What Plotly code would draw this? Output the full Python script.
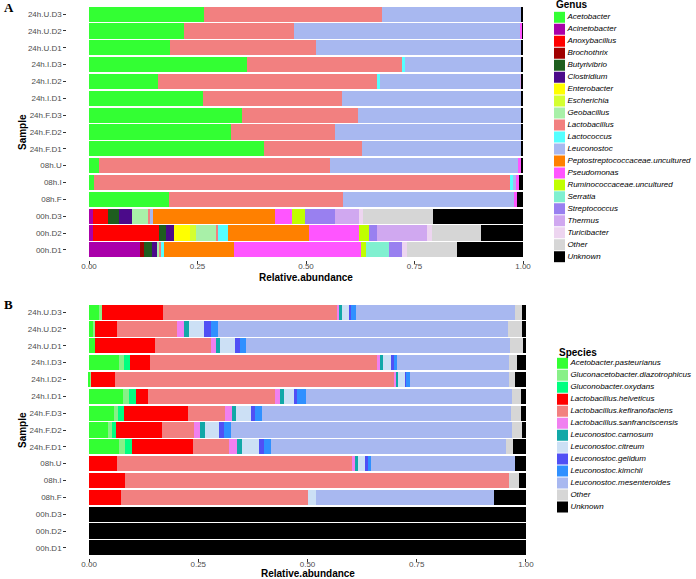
import plotly.graph_objects as go

# samples, bottom to top
samples = ["00h.D1", "00h.D2", "00h.D3", "08h.F", "08h.I", "08h.U",
           "24h.F.D1", "24h.F.D2", "24h.F.D3", "24h.I.D1", "24h.I.D2", "24h.I.D3",
           "24h.U.D1", "24h.U.D2", "24h.U.D3"]
ticks = [0, 0.25, 0.5, 0.75, 1.0]
tick_labels = ["0.00", "0.25", "0.50", "0.75", "1.00"]

# ---- panel A : genus ----
genus = ["Acetobacter", "Acinetobacter", "Anoxybacillus", "Brochothrix", "Butyrivibrio",
         "Clostridium", "Enterobacter", "Escherichia", "Geobacillus", "Lactobacillus",
         "Lactococcus", "Leuconostoc", "Peptostreptococcaceae.uncultured", "Pseudomonas",
         "Ruminococcaceae.uncultured", "Serratia", "Streptococcus", "Thermus",
         "Turicibacter", "Other", "Unknown"]
genus_colors = ["#33FF33", "#AA00AA", "#FF0000", "#A00000", "#1E5E1E",
                "#4B0A8A", "#FFFF00", "#D4FF30", "#A8F0A8", "#F28080",
                "#55FFFF", "#A8B8F0", "#FF8000", "#FF55FF",
                "#C0FF00", "#80F0D0", "#9980F0", "#D0A8F0",
                "#EDD5F0", "#D6D6D6", "#000000"]

acetobacter = [0, 0, 0, 0.184, 0.011, 0.024, 0.404, 0.327, 0.352, 0.262, 0.160, 0.363, 0.187, 0.219, 0.265]
acinetobacter = [0.118, 0.010, 0.010, 0, 0, 0, 0, 0, 0, 0, 0, 0, 0, 0, 0]
anoxybacillus = [0, 0.152, 0.034, 0, 0, 0, 0, 0, 0, 0, 0, 0, 0, 0, 0]
brochothrix = [0.009, 0, 0, 0, 0, 0, 0, 0, 0, 0, 0, 0, 0, 0, 0]
butyrivibrio = [0.018, 0.015, 0.025, 0, 0, 0, 0, 0, 0, 0, 0, 0, 0, 0, 0]
clostridium = [0.012, 0.019, 0.029, 0, 0, 0, 0, 0, 0, 0, 0, 0, 0, 0, 0]
enterobacter = [0, 0.037, 0, 0, 0, 0, 0, 0, 0, 0, 0, 0, 0, 0, 0]
escherichia = [0, 0.013, 0, 0, 0, 0, 0, 0, 0, 0, 0, 0, 0, 0, 0]
geobacillus = [0.007, 0.046, 0.037, 0, 0, 0, 0, 0, 0, 0, 0, 0, 0, 0, 0]
lactobacillus = [0.002, 0.006, 0.006, 0.401, 0.959, 0.531, 0.225, 0.240, 0.267, 0.321, 0.506, 0.358, 0.336, 0.253, 0.410]
lactococcus = [0.006, 0.023, 0, 0, 0.007, 0, 0, 0, 0, 0, 0.004, 0.008, 0, 0, 0]
leuconostoc = [0, 0, 0.007, 0.397, 0.009, 0.436, 0.369, 0.431, 0.379, 0.414, 0.323, 0.268, 0.475, 0.523, 0.322]
peptostrep = [0.162, 0.186, 0.281, 0, 0, 0, 0, 0, 0, 0, 0, 0, 0, 0, 0]
pseudomonas = [0.293, 0.115, 0.038, 0.004, 0.004, 0.004, 0, 0, 0, 0, 0, 0, 0, 0.004, 0]
ruminococcaceae = [0.011, 0.022, 0.031, 0, 0, 0, 0, 0, 0, 0, 0, 0, 0, 0, 0]
serratia = [0.054, 0, 0, 0, 0, 0, 0, 0, 0, 0, 0, 0, 0, 0, 0]
streptococcus = [0.029, 0.020, 0.069, 0, 0, 0, 0, 0, 0, 0, 0, 0, 0, 0, 0]
thermus = [0, 0.114, 0.055, 0, 0, 0, 0, 0, 0, 0, 0.005, 0, 0, 0, 0]
turicibacter = [0.012, 0.012, 0.010, 0, 0, 0, 0, 0, 0, 0, 0, 0, 0, 0, 0]
genus_other = [0.116, 0.113, 0.160, 0, 0, 0, 0, 0, 0, 0, 0, 0, 0, 0, 0]
genus_unknown = [0.151, 0.097, 0.208, 0.014, 0.010, 0.005, 0.002, 0.002, 0.002, 0.003, 0.002, 0.003, 0.002, 0.001, 0.003]

genus_values = [acetobacter, acinetobacter, anoxybacillus, brochothrix, butyrivibrio,
                clostridium, enterobacter, escherichia, geobacillus, lactobacillus,
                lactococcus, leuconostoc, peptostrep, pseudomonas, ruminococcaceae,
                serratia, streptococcus, thermus, turicibacter, genus_other, genus_unknown]

# ---- panel B : species ----
species = ["Acetobacter.pasteurianus", "Gluconacetobacter.diazotrophicus", "Gluconobacter.oxydans",
           "Lactobacillus.helveticus", "Lactobacillus.kefiranofaciens", "Lactobacillus.sanfranciscensis",
           "Leuconostoc.carnosum", "Leuconostoc.citreum", "Leuconostoc.gelidum", "Leuconostoc.kimchii",
           "Leuconostoc.mesenteroides", "Other", "Unknown"]
species_colors = ["#33FF33", "#88F088", "#00FF80", "#FF0000", "#F28080", "#F080F0",
                  "#11A8A8", "#CCE0F5", "#5050F5", "#3090FF", "#A8B8F0", "#D6D6D6", "#000000"]

a_pasteurianus = [0, 0, 0, 0, 0, 0, 0.069, 0.044, 0.057, 0.077, 0.003, 0.068, 0.014, 0.011, 0.022]
g_diazotrophicus = [0, 0, 0, 0, 0, 0, 0.013, 0.009, 0.010, 0.015, 0.002, 0.013, 0, 0.003, 0.007]
g_oxydans = [0, 0, 0, 0, 0, 0, 0.016, 0.009, 0.013, 0.016, 0, 0.013, 0, 0, 0]
l_helveticus = [0, 0, 0, 0.074, 0.082, 0.065, 0.141, 0.106, 0.146, 0.026, 0.055, 0.045, 0.137, 0.051, 0.140]
l_kefiranofaciens = [0, 0, 0, 0.428, 0.879, 0.538, 0.081, 0.072, 0.085, 0.292, 0.640, 0.519, 0.127, 0.136, 0.399]
l_sanfranciscensis = [0, 0, 0, 0, 0, 0.006, 0.018, 0.014, 0.016, 0.010, 0.004, 0.007, 0.012, 0.016, 0.006]
l_carnosum = [0, 0, 0, 0, 0, 0.007, 0.011, 0.011, 0.009, 0.010, 0.004, 0.007, 0.010, 0.012, 0.004]
l_citreum = [0, 0, 0, 0.017, 0, 0.016, 0.041, 0.033, 0.034, 0.025, 0.016, 0.020, 0.033, 0.035, 0.017]
l_gelidum = [0, 0, 0, 0, 0, 0.006, 0.010, 0.011, 0.010, 0.004, 0.002, 0.005, 0.012, 0.014, 0.005]
l_kimchii = [0, 0, 0, 0, 0, 0.007, 0.016, 0.016, 0.015, 0.022, 0.009, 0.009, 0.015, 0.018, 0.011]
l_mesenteroides = [0, 0, 0, 0.408, 0, 0.331, 0.538, 0.644, 0.571, 0.470, 0.227, 0.256, 0.603, 0.664, 0.364]
species_other = [0, 0, 0, 0, 0.024, 0, 0.017, 0.023, 0.022, 0.022, 0.014, 0.018, 0.030, 0.032, 0.017]
species_unknown = [1.0, 1.0, 1.0, 0.073, 0.015, 0.024, 0.029, 0.008, 0.012, 0.011, 0.024, 0.020, 0.007, 0.008, 0.008]

species_values = [a_pasteurianus, g_diazotrophicus, g_oxydans, l_helveticus, l_kefiranofaciens,
                  l_sanfranciscensis, l_carnosum, l_citreum, l_gelidum, l_kimchii,
                  l_mesenteroides, species_other, species_unknown]

W, H = 696, 579
FONT = "Liberation Sans, Arial, sans-serif"
fig = go.Figure()

for name, col, vals in zip(genus, genus_colors, genus_values):
    fig.add_trace(go.Bar(x=vals, y=samples, orientation="h", name=name,
                         marker=dict(color=col, line=dict(width=0)),
                         xaxis="x", yaxis="y", showlegend=False))

for name, col, vals in zip(species, species_colors, species_values):
    fig.add_trace(go.Bar(x=vals, y=samples, orientation="h", name=name,
                         marker=dict(color=col, line=dict(width=0)),
                         xaxis="x2", yaxis="y2", showlegend=False))

# hand-made legends (ggplot style, tight key spacing)
fig.add_trace(go.Scatter(x=[5.5] * len(genus), y=list(range(len(genus))), mode="markers+text",
                         marker=dict(symbol="square", size=11, color=genus_colors, line=dict(width=0)),
                         text=genus, textposition="middle right",
                         textfont=dict(size=8, color="#000000", family=FONT, style="italic"),
                         xaxis="x3", yaxis="y3", showlegend=False, hoverinfo="skip"))
fig.add_trace(go.Scatter(x=[5.5] * len(species), y=list(range(len(species))), mode="markers+text",
                         marker=dict(symbol="square", size=11, color=species_colors, line=dict(width=0)),
                         text=species, textposition="middle right",
                         textfont=dict(size=8, color="#000000", family=FONT, style="italic"),
                         xaxis="x4", yaxis="y4", showlegend=False, hoverinfo="skip"))

def px(v, total):
    return v / total

xa = dict(range=[-0.05, 1.05], tickvals=ticks, ticktext=tick_labels, ticks="outside",
          ticklen=3, tickwidth=1, tickcolor="#333333", showgrid=False, zeroline=False,
          showline=False, ticklabelstandoff=-5,
          tickfont=dict(size=8, color="#4D4D4D", family=FONT))
ya = dict(type="category", categoryorder="array", categoryarray=samples,
          range=[-0.6, 14.6], ticks="outside", ticklen=3, tickwidth=1, tickcolor="#333333",
          showgrid=False, zeroline=False, showline=False,
          tickfont=dict(size=8, color="#4D4D4D", family=FONT))
hidden = dict(visible=False, showgrid=False, zeroline=False)

fig.update_layout(
    width=W, height=H, barmode="stack", bargap=0.1,
    plot_bgcolor="white", paper_bgcolor="white",
    margin=dict(l=0, r=0, t=0, b=0),
    font=dict(family=FONT),
    xaxis=dict(xa, domain=[px(67.3, W), px(544.7, W)], anchor="y"),
    yaxis=dict(ya, domain=[1 - px(260, H), 1 - px(4, H)], anchor="x"),
    xaxis2=dict(xa, domain=[px(67.2, W), px(547.8, W)], anchor="y2"),
    yaxis2=dict(ya, domain=[1 - px(558, H), 1 - px(302, H)], anchor="x2"),
    xaxis3=dict(hidden, domain=[px(554, W), 1], range=[0, 142], anchor="y3"),
    yaxis3=dict(hidden, domain=[1 - px(262.7, H), 1 - px(11.3, H)], range=[20.5, -0.5], anchor="x3"),
    xaxis4=dict(hidden, domain=[px(557, W), 1], range=[0, 139], anchor="y4"),
    yaxis4=dict(hidden, domain=[1 - px(513.0, H), 1 - px(357.3, H)], range=[12.5, -0.5], anchor="x4"),
)

def note(text, x, y, size, bold=True, family=FONT, angle=0, xanchor="center"):
    fig.add_annotation(text=f"<b>{text}</b>" if bold else text, x=px(x, W), y=1 - px(y, H),
                       xref="paper", yref="paper", showarrow=False, textangle=angle,
                       xanchor=xanchor, yanchor="middle",
                       font=dict(size=size, color="#000000", family=family))

note("A", 2, 7, 13, family="Liberation Serif, Times New Roman, serif", xanchor="left")
note("B", 2, 304, 13, family="Liberation Serif, Times New Roman, serif", xanchor="left")
note("Sample", 22, 132, 10, angle=-90)
note("Sample", 22, 430, 10, angle=-90)
note("Relative.abundance", 306, 277, 10)
note("Relative.abundance", 307.5, 573, 10)
note("Genus", 554, 5, 10, xanchor="left")
note("Species", 557, 352, 10, xanchor="left")

# page body has an 8px default margin; drop it so the figure sits at (0, 0)
fig.write_html("out.html", config={"displayModeBar": False},
               post_script="document.body.style.margin='0';")
